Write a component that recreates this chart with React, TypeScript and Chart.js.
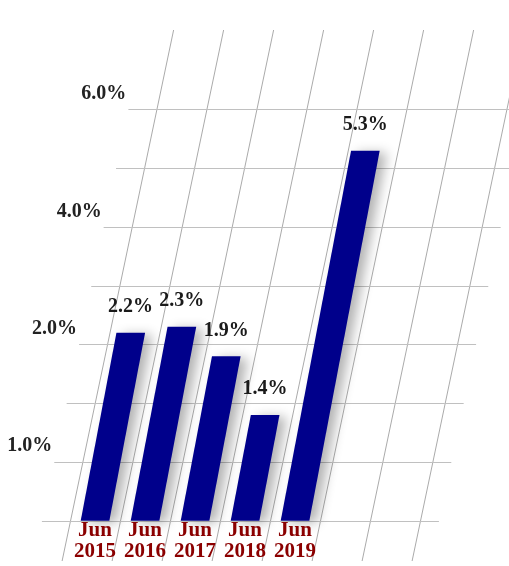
import React, { useEffect, useRef } from 'react';
import { Chart, registerables, LinearScale } from 'chart.js';

// ---- data ----
const categories = [
  ['Jun', '2015'],
  ['Jun', '2016'],
  ['Jun', '2017'],
  ['Jun', '2018'],
  ['Jun', '2019'],
];
const blankSlots = ['', ''];
const values = [2.2, 2.3, 1.9, 1.4, 5.3];
const gridValues = [0, 1, 1.5, 2, 3, 4, 5, 6];
const labelValues = [1, 2, 4, 6];

// ---- style constants ----
const HEADROOM = 1.36;
const GRID_SKEW = 0.21;
const BAR_SKEW = 0.19;
const SERIF = "'Liberation Serif', 'Times New Roman', serif";

function stepFraction(v: number): number {
  const k = gridValues;
  const n = k.length - 1;
  const total = n + HEADROOM;
  if (v <= k[0]) return 0;
  for (let i = 0; i < n; i++) {
    if (v <= k[i + 1]) return (i + (v - k[i]) / (k[i + 1] - k[i])) / total;
  }
  return (n + (v - k[n]) / (k[n] - k[n - 1])) / total;
}

function stepValue(f: number): number {
  const k = gridValues;
  const n = k.length - 1;
  const s = f * (n + HEADROOM);
  if (s <= 0) return k[0];
  const i = Math.floor(s);
  if (i >= n) return k[n] + (s - n) * (k[n] - k[n - 1]);
  return k[i] + (s - i) * (k[i + 1] - k[i]);
}

class StepScale extends LinearScale {
  static id = 'step';
  static defaults = LinearScale.defaults;
  buildTicks() {
    return gridValues.map((value) => ({ value }));
  }
  getPixelForValue(value: number) {
    return this.getPixelForDecimal(stepFraction(value));
  }
  getValueForPixel(pixel: number) {
    return stepValue(this.getDecimalForPixel(pixel));
  }
}

Chart.register(...registerables, StepScale);

const TICK_LEFT = 28;

const skewPlugin = {
  id: 'skewPlugin',
  beforeDraw(chart: any) {
    const ctx = chart.ctx;
    const base = chart.scales.y.getPixelForValue(0);
    ctx.save();
    ctx.transform(1, 0, -GRID_SKEW, 1, GRID_SKEW * base, 0);
  },
  beforeDatasetsDraw(chart: any) {
    const ctx = chart.ctx;
    ctx.restore();
    ctx.save();
    const base = chart.scales.y.getPixelForValue(0);
    ctx.transform(1, 0, -BAR_SKEW, 1, BAR_SKEW * base, 0);
    ctx.shadowColor = 'rgba(0,0,0,0.3)';
    ctx.shadowBlur = 12;
    ctx.shadowOffsetX = 7;
    ctx.shadowOffsetY = 2;
  },
  afterDatasetsDraw(chart: any) {
    chart.ctx.restore();
  },
  afterDraw(chart: any) {
    const { ctx, chartArea } = chart;
    const yScale = chart.scales.y;
    const base = yScale.getPixelForValue(0);
    ctx.save();
    ctx.font = `bold 20px ${SERIF}`;
    ctx.fillStyle = '#222222';
    ctx.textAlign = 'right';
    ctx.textBaseline = 'middle';
    labelValues.forEach((v) => {
      const py = yScale.getPixelForValue(v);
      const lineStart = chartArea.left - TICK_LEFT + GRID_SKEW * (base - py);
      ctx.fillText(v.toFixed(1) + '%', lineStart - 2, py - 16);
    });
    ctx.textAlign = 'center';
    ctx.fillStyle = '#1a1a1a';
    const meta = chart.getDatasetMeta(0);
    meta.data.forEach((bar: any, i: number) => {
      const p = bar.getProps(['x', 'y', 'base'], true);
      const tx = p.x + BAR_SKEW * (p.base - p.y);
      ctx.fillText(values[i].toFixed(1) + '%', tx, p.y - 26);
    });
    ctx.restore();
  },
};

export default function App() {
  const ref = useRef<HTMLCanvasElement | null>(null);
  useEffect(() => {
    if (!ref.current) return;
    const chart = new Chart(ref.current, {
      type: 'bar',
      data: {
        labels: [...categories, ...blankSlots],
        datasets: [
          {
            data: values,
            backgroundColor: '#00008b',
            borderWidth: 0,
            barThickness: 28,
            clip: false,
          } as any,
        ],
      },
      options: {
        responsive: false,
        animation: false,
        layout: { padding: { left: 42, right: 70, top: 30, bottom: 0 } },
        plugins: { legend: { display: false }, tooltip: { enabled: false } },
        scales: {
          x: {
            type: 'category',
            offset: true,
            border: { display: false },
            title: {
              display: true,
              text: '',
              padding: 0,
              font: { size: 10, lineHeight: '44px' },
            },
            grid: {
              offset: true,
              color: '#9a9a9a',
              lineWidth: 0.8,
              tickLength: 40,
              drawTicks: true,
            },
            ticks: {
              z: 1,
              autoSkip: false,
              maxRotation: 0,
              padding: -40.5,
              color: '#8b0000',
              font: { family: SERIF, size: 21, weight: 'bold', lineHeight: 1.0 },
            },
          },
          y: {
            type: 'step',
            position: 'left',
            min: 0,
            max: 6,
            border: { display: false },
            grid: { color: '#c0c0c0', lineWidth: 1, tickLength: TICK_LEFT, drawTicks: true },
            ticks: { display: false },
          },
          y2: {
            type: 'step',
            position: 'right',
            min: 0,
            max: 6,
            border: { display: false },
            grid: { color: '#c0c0c0', lineWidth: 1, tickLength: 19, drawTicks: true, drawOnChartArea: false },
            ticks: { display: false },
          },
        } as any,
      },
      plugins: [skewPlugin],
    });
    return () => chart.destroy();
  }, []);
  return (
    <canvas
      ref={ref}
      width={509}
      height={566}
      style={{ position: 'absolute', left: 0, top: 0, width: 509, height: 566 }}
    />
  );
}
